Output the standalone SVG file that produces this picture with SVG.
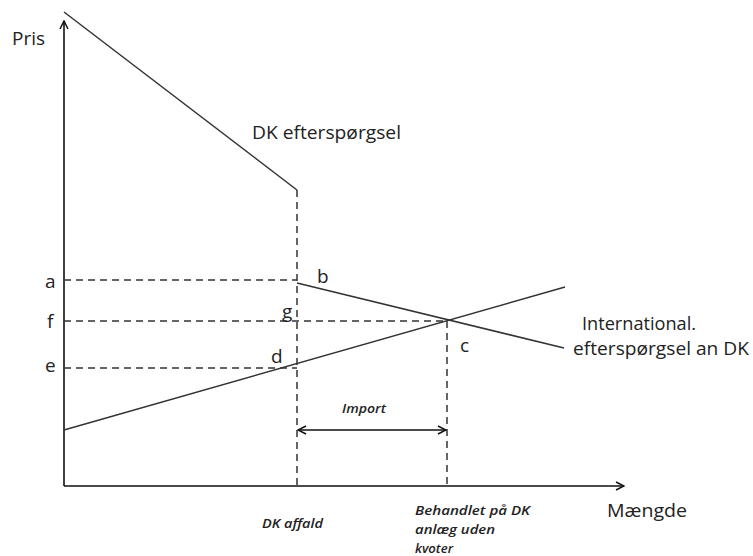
<svg xmlns="http://www.w3.org/2000/svg" width="753" height="556" viewBox="0 0 753 556">
<defs>
<marker id="chev" viewBox="0 0 10 10" refX="9" refY="5" markerWidth="10" markerHeight="10" markerUnits="userSpaceOnUse" orient="auto-start-reverse">
<path d="M1,1 L9,5 L1,9" fill="none" stroke="#111" stroke-width="1.5"/>
</marker>
</defs>
<style>
.t{font-family:"Open Sans","Liberation Sans",sans-serif;font-size:19px;fill:#222}
.i{font-family:"Open Sans","Liberation Sans",sans-serif;font-size:13px;font-style:italic;font-weight:600;fill:#222}
.ax{stroke:#111;stroke-width:1.6;fill:none}
.ln{stroke:#333;stroke-width:1.5;fill:none}
.ds{stroke:#333;stroke-width:1.5;fill:none;stroke-dasharray:7 5}
</style>
<rect width="753" height="556" fill="#fff"/>
<g id="axes">
<line class="ax" x1="64" y1="486" x2="64" y2="21" marker-end="url(#chev)"/>
<line class="ax" x1="64" y1="486" x2="624" y2="486" marker-end="url(#chev)"/>
</g>
<g id="connectors">
<line class="ln" x1="64" y1="12" x2="297" y2="190"/>
<line class="ln" x1="297" y1="283" x2="564" y2="348"/>
<line class="ln" x1="64" y1="430" x2="565" y2="287"/>
<line class="ds" x1="297" y1="190" x2="297" y2="486"/>
<line class="ds" x1="447" y1="321" x2="447" y2="486"/>
<line class="ds" x1="64" y1="280" x2="297" y2="280"/>
<line class="ds" x1="64" y1="321" x2="447" y2="321"/>
<line class="ds" x1="64" y1="368" x2="297" y2="368"/>
<line class="ax" x1="298" y1="430" x2="446" y2="430" marker-start="url(#chev)" marker-end="url(#chev)"/>
</g>
<g id="labels">
<text class="t" x="12" y="45" textLength="33" lengthAdjust="spacingAndGlyphs">Pris</text>
<text class="t" x="252" y="139" textLength="149" lengthAdjust="spacingAndGlyphs">DK efterspørgsel</text>
<text class="t" x="45" y="288">a</text>
<text class="t" x="47" y="328">f</text>
<text class="t" x="45" y="372">e</text>
<text class="t" x="317" y="283">b</text>
<text class="t" x="282" y="318">g</text>
<text class="t" x="271" y="363">d</text>
<text class="t" x="460" y="352">c</text>
<text class="t" x="582" y="330" textLength="114" lengthAdjust="spacingAndGlyphs">International.</text>
<text class="t" x="573" y="355" textLength="176" lengthAdjust="spacingAndGlyphs">efterspørgsel an DK</text>
<text class="t" x="607" y="517" textLength="80" lengthAdjust="spacingAndGlyphs">Mængde</text>
<text class="i" x="342" y="413" textLength="44" lengthAdjust="spacingAndGlyphs">Import</text>
<text class="i" x="262" y="528" textLength="61" lengthAdjust="spacingAndGlyphs">DK affald</text>
<text class="i" x="415" y="515" textLength="115" lengthAdjust="spacingAndGlyphs">Behandlet på DK</text>
<text class="i" x="415" y="534" textLength="80" lengthAdjust="spacingAndGlyphs">anlæg uden</text>
<text class="i" x="415" y="553" textLength="38" lengthAdjust="spacingAndGlyphs">kvoter</text>
</g>
</svg>
